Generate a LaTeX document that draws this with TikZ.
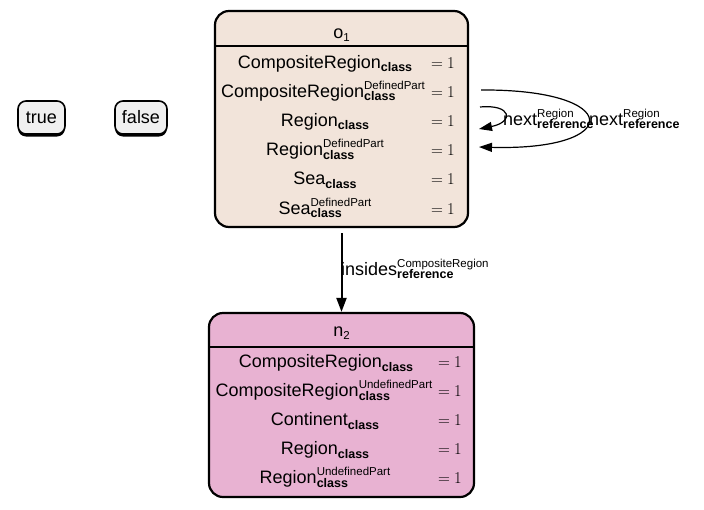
\documentclass[tikz,border=0pt]{standalone}
\usepackage{fontspec}
\setmainfont{Liberation Sans}
\newfontfamily\eqfont{Latin Modern Roman}
\usetikzlibrary{arrows.meta,shadows}

\definecolor{objfill}{RGB}{242,228,218}
\definecolor{nodefill}{RGB}{232,178,210}
\definecolor{boolfill}{RGB}{240,240,240}

\newcommand\mainsz{\fontsize{18}{21}\selectfont}
\newcommand\supsz{\fontsize{11.5}{13}\selectfont}
\newcommand\subsz{\fontsize{12.5}{14}\selectfont\bfseries}

% name with a superscript (#2) and a bold subscript (#3) stacked after it
\newcommand\attrib[3]{#1\setbox0=\hbox{\supsz #2}\setbox2=\hbox{\subsz #3}%
  \ifdim\wd0>\wd2 \dimen0=\wd0 \else \dimen0=\wd2 \fi
  \rlap{\raisebox{8pt}{\box0}}\rlap{\raisebox{-3.5pt}{\box2}}\hspace*{\dimen0}}
\newcommand\idx[2]{#1\raisebox{-3pt}{\supsz #2}}

\tikzset{
  recbox/.style={draw, line width=2.2pt, rounded corners=14pt, inner sep=0pt},
  boolbox/.style={draw, line width=1.6pt, rounded corners=8pt, fill=boolfill,
    inner sep=0pt, minimum height=33pt, font=\mainsz,
    drop shadow={shadow xshift=0pt, shadow yshift=-2.5pt, fill=black, opacity=1}},
  lab/.style={anchor=base, inner sep=0pt, font=\mainsz},
  eqv/.style={anchor=base west, inner sep=0pt, font=\eqfont\fontsize{16.5}{18}\selectfont},
  sepline/.style={line width=2.2pt},
  selfedge/.style={line width=1.2pt, -{Triangle[length=13pt,width=9pt]}},
  rel/.style={line width=2pt, -{Triangle[length=14pt,width=10pt]}},
}

\begin{document}
\begin{tikzpicture}[x=1pt,y=-1pt]
\useasboundingbox (0,0) rectangle (704,509);

% boolean constants
\node[boolbox, minimum width=47pt] (true) at (41.5,117.5) {true};
\node[boolbox, minimum width=52pt] (false) at (141,117.5) {false};

% object o1
\node[recbox, fill=objfill, minimum width=253pt, minimum height=216pt] (o1) at (341.5,119) {};
\draw[sepline] (215,46) -- (468,46);
\node[lab] (o1h) at (341.5,38) {\idx{o}{1}};
\node[lab] (o1a) at (325,68)    {\attrib{CompositeRegion}{}{class}};
\node[lab] (o1b) at (323,97.2)  {\attrib{CompositeRegion}{DefinedPart}{class}};
\node[lab] (o1c) at (325,126.4) {\attrib{Region}{}{class}};
\node[lab] (o1d) at (325,155.6) {\attrib{Region}{DefinedPart}{class}};
\node[lab] (o1e) at (325,184.8) {\attrib{Sea}{}{class}};
\node[lab] (o1f) at (325,214)   {\attrib{Sea}{DefinedPart}{class}};
\foreach \y/\n in {68/a,97.2/b,126.4/c,155.6/d,184.8/e,214/f}
  \node[eqv] (o1v\n) at (431,\y) {=\hspace{4pt}1};

% node n2
\node[recbox, fill=nodefill, minimum width=265pt, minimum height=184pt] (n2) at (341.5,405) {};
\draw[sepline] (209,347) -- (474,347);
\node[lab] (n2h) at (341.5,336) {\idx{n}{2}};
\node[lab] (n2a) at (326,367.5) {\attrib{CompositeRegion}{}{class}};
\node[lab] (n2b) at (324,396.5) {\attrib{CompositeRegion}{UndefinedPart}{class}};
\node[lab] (n2c) at (325,425.5) {\attrib{Continent}{}{class}};
\node[lab] (n2d) at (325,454.5) {\attrib{Region}{}{class}};
\node[lab] (n2e) at (325,483.5) {\attrib{Region}{UndefinedPart}{class}};
\foreach \y/\n in {367.5/a,396.5/b,425.5/c,454.5/d,483.5/e}
  \node[eqv] (n2v\n) at (438,\y) {=\hspace{4pt}1};

% reference o1 -> n2
\draw[rel] ([yshift=-5pt]o1.south) -- (n2.north);
\node[lab, anchor=base west] (insl) at (341,275) {\attrib{insides}{CompositeRegion}{reference}};

% self references on o1
\coordinate (outA) at (481,90);
\coordinate (outB) at (479,147);
\coordinate (inA) at (480,107);
\coordinate (inB) at (479,129);
\draw[selfedge] (outA) .. controls (624,89) and (624,151) .. (outB);
\draw[selfedge] (inA) .. controls (512,104) and (514,122) .. (inB);
\node[lab, anchor=base west] (nextin) at (503,125) {\attrib{next}{Region}{reference}};
\node[lab, anchor=base west] (nextout) at (589,125) {\attrib{next}{Region}{reference}};
\end{tikzpicture}
\end{document}
